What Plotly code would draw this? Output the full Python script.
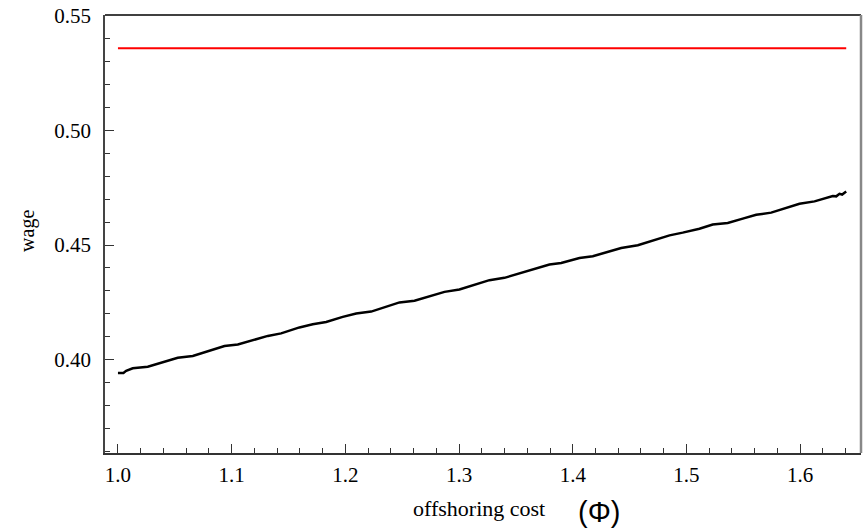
import plotly.graph_objects as go

# offshoring cost (Phi) and wage values
phi = [1.000, 1.0048, 1.0072, 1.0130, 1.0262, 1.0365, 1.0526, 1.0658, 1.0805, 1.0937,
       1.1054, 1.1186, 1.1318, 1.1435, 1.1596, 1.1713, 1.1831, 1.1977, 1.2095, 1.2227,
       1.2359, 1.2476, 1.2608, 1.2740, 1.2872, 1.3003, 1.3164, 1.3267, 1.3399, 1.3531,
       1.3663, 1.3795, 1.3898, 1.4059, 1.4176, 1.4294, 1.4426, 1.4572, 1.4748, 1.4851,
       1.4967, 1.5114, 1.5231, 1.5363, 1.5495, 1.5613, 1.5745, 1.5877, 1.5994, 1.6126,
       1.6243, 1.6287, 1.6317, 1.6346, 1.6369, 1.6405]
wage = [0.3943, 0.3943, 0.3952, 0.3963, 0.3970, 0.3984, 0.4009, 0.4017, 0.4039, 0.4060,
        0.4067, 0.4086, 0.4104, 0.4115, 0.4141, 0.4155, 0.4165, 0.4187, 0.4202, 0.4210,
        0.4230, 0.4250, 0.4257, 0.4277, 0.4296, 0.4306, 0.4329, 0.4347, 0.4357, 0.4376,
        0.4394, 0.4415, 0.4422, 0.4443, 0.4451, 0.4467, 0.4487, 0.4499, 0.4528, 0.4542,
        0.4554, 0.4571, 0.4589, 0.4596, 0.4615, 0.4632, 0.4641, 0.4661, 0.4680, 0.4690,
        0.4709, 0.4713, 0.4712, 0.4723, 0.4720, 0.4733]

ref_phi = [1.000, 1.6405]
ref_wage = [0.5357, 0.5357]

x_ticks = [1.0, 1.1, 1.2, 1.3, 1.4, 1.5, 1.6]
y_ticks = [0.40, 0.45, 0.50, 0.55]

fig = go.Figure()
fig.add_trace(go.Scatter(x=ref_phi, y=ref_wage, mode="lines",
                         line=dict(color="#ff0000", width=2), showlegend=False))
fig.add_trace(go.Scatter(x=phi, y=wage, mode="lines",
                         line=dict(color="#000000", width=2.5), showlegend=False))

serif = "Liberation Serif"
tfont = dict(family=serif, size=21, color="black")
fig.update_layout(
    width=868, height=530,
    margin=dict(l=105, r=7, t=15, b=77),
    plot_bgcolor="white", paper_bgcolor="white",
    font=dict(family=serif, color="black", size=20),
    xaxis=dict(range=[0.9886, 1.6535], tickvals=x_ticks,
               ticktext=[f"{v:.1f}" for v in x_ticks],
               ticks="inside", ticklen=9, tickwidth=1.2, tickcolor="#333",
               minor=dict(dtick=0.02, ticks="inside", ticklen=5, tickwidth=1.2, tickcolor="#333"),
               showline=True, linecolor="#333", linewidth=1.5, mirror=False,
               showgrid=False, zeroline=False, ticklabelstandoff=2, automargin=False,
               ticklabeloverflow="allow", tickfont=tfont),
    yaxis=dict(range=[0.3594, 0.5502], tickvals=y_ticks,
               ticktext=[f"{v:.2f}" for v in y_ticks],
               ticks="inside", ticklen=9, tickwidth=1.2, tickcolor="#333",
               minor=dict(dtick=0.01, ticks="inside", ticklen=5, tickwidth=1.2, tickcolor="#333"),
               showline=True, linecolor="#444", linewidth=1.5, mirror=False,
               showgrid=False, zeroline=False, ticklabelstandoff=8, automargin=False,
               ticklabeloverflow="allow", tickfont=tfont),
    shapes=[
        dict(type="line", xref="paper", yref="paper", x0=0, x1=1, y0=1, y1=1,
             line=dict(color="black", width=1.5)),
        dict(type="line", xref="paper", yref="paper", x0=1, x1=1, y0=0, y1=1,
             line=dict(color="#888", width=2.5)),
    ],
    annotations=[
        dict(text="wage", xref="paper", yref="paper", x=-0.1019, y=0.507,
             xanchor="center", yanchor="middle", textangle=-90, showarrow=False,
             font=dict(family=serif, size=20, color="black")),
        dict(text="offshoring cost", xref="paper", yref="paper", x=0.4947, y=-0.1256,
             xanchor="center", yanchor="middle", showarrow=False,
             font=dict(family=serif, size=22, color="black")),
        dict(text="(Φ)", xref="paper", yref="paper", x=0.6534, y=-0.1347,
             xanchor="center", yanchor="middle", showarrow=False,
             font=dict(family="Liberation Sans", size=29, color="black")),
    ],
)

fig.write_html("out.html",
               config={"displayModeBar": False},
               post_script="document.body.style.margin='0';document.body.style.overflow='hidden';")
